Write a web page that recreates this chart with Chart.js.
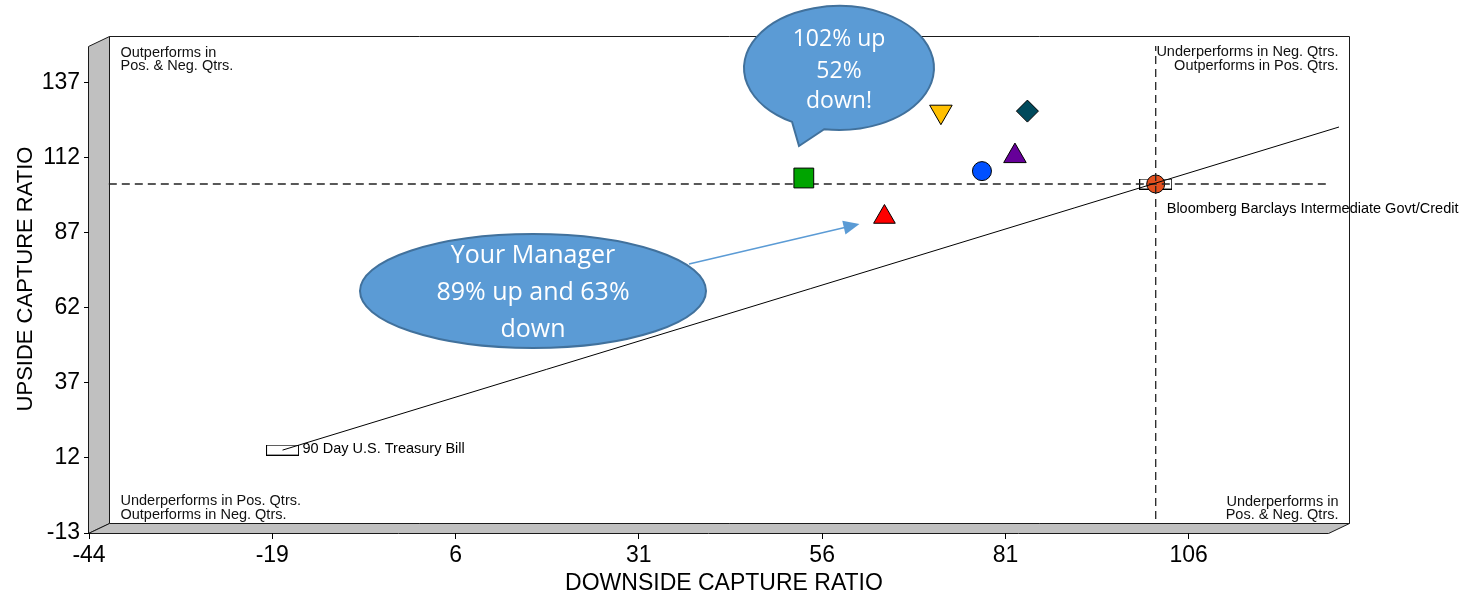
<!DOCTYPE html>
<html>
<head>
<meta charset="utf-8">
<title>Up / Down Capture</title>
<script src="https://cdn.jsdelivr.net/npm/chart.js@4.4.1/dist/chart.umd.min.js"></script>
<style>
  body { margin: 0; background: #fff; }
  canvas { display: block; }
</style>
</head>
<body>
<canvas id="captureChart" width="1471" height="600"></canvas>
<script>
"use strict";

// Downside (x) and upside (y) capture ratios of the managers
var downside = [63, 52, 70.7, 82.5, 80.8, 76.3];
var upside = [89, 102, 124.1, 124.3, 109.3, 104.3];

// benchmark and cash reference points
var benchmarkName = "Bloomberg Barclays Intermediate Govt/Credit";
var benchmarkDown = 100;
var benchmarkUp = 100;
var cashName = "90 Day U.S. Treasury Bill";
var cashDown = -19.1;
var cashUp = 11.3;

// line from cash through the benchmark
var lineDown = [-19.1, 125];
var lineUp = [11.3, 119];

// extent of the dashed benchmark lines
var hLineDown = [-42.8, 123.4];
var vLineUp = [-11.7, 146];

// axis ticks
var xTicks = [-44, -19, 6, 31, 56, 81, 106];
var yTicks = [-13, 12, 37, 62, 87, 112, 137];

// callouts and quadrant notes
var managerNote = ["Your Manager", "89% up and 63%", "down"];
var bestNote = ["102% up", "52%", "down!"];
var noteTopLeft = ["Outperforms in", "Pos. & Neg. Qtrs."];
var noteTopRight = ["Underperforms in Neg. Qtrs.", "Outperforms in Pos. Qtrs."];
var noteBottomLeft = ["Underperforms in Pos. Qtrs.", "Outperforms in Neg. Qtrs."];
var noteBottomRight = ["Underperforms in", "Pos. & Neg. Qtrs."];

// marker looks, one per manager
var markerShape = ["triangle", "rect", "triangle", "rectRot", "triangle", "circle"];
var markerColor = ["#ff0000", "#00a400", "#ffc000", "#004a5c", "#660099", "#0050ff"];
var markerSize = [12.5, 14, 13, 11, 13, 9.5];
var markerTurn = [0, 0, 180, 0, 0, 0];

var SANS = "'Liberation Sans', Arial, sans-serif";
var CALLOUT = "'Open Sans', sans-serif";

Chart.defaults.font.family = SANS;
Chart.defaults.color = "#000";

function pairs(xs, ys) {
    return xs.map(function (x, i) { return {x: x, y: ys[i]}; });
}

// small white box used for the benchmark and cash points
function boxMarker() {
    var c = document.createElement("canvas");
    c.width = 33;
    c.height = 11;
    var g = c.getContext("2d");
    g.fillStyle = "#fff";
    g.fillRect(0, 0, 33, 11);
    g.strokeStyle = "#000";
    g.lineWidth = 1;
    g.strokeRect(0.5, 0.5, 32, 10);
    return c;
}

function bubble(ctx, cx, cy, rx, ry, tail) {
    ctx.beginPath();
    if (tail) {
        var aLeft = Math.atan2((tail[0][1] - cy) / ry, (tail[0][0] - cx) / rx);
        var aRight = Math.atan2((tail[2][1] - cy) / ry, (tail[2][0] - cx) / rx);
        ctx.ellipse(cx, cy, rx, ry, 0, aLeft, aRight);
        ctx.lineTo(tail[1][0], tail[1][1]);
        ctx.closePath();
    } else {
        ctx.ellipse(cx, cy, rx, ry, 0, 0, Math.PI * 2);
    }
    ctx.fillStyle = "#5b9bd5";
    ctx.fill();
    ctx.strokeStyle = "#41719c";
    ctx.lineWidth = 2;
    ctx.stroke();
}

function lines(ctx, text, x, ys) {
    text.forEach(function (t, i) { ctx.fillText(t, x, ys[i]); });
}

// 3D frame: grey side wall and floor, white back wall
var framePlugin = {
    id: "frame",
    beforeDraw: function (chart) {
        var ctx = chart.ctx, a = chart.chartArea;
        var fl = Math.round(a.left) - 0.5, fb = Math.round(a.bottom) + 0.5;
        var fr = Math.round(a.right) + 0.5, ft = Math.round(a.top) + 0.5;
        var dx = 21, dy = -10;
        ctx.save();
        ctx.fillStyle = "#fff";
        ctx.fillRect(0, 0, chart.width, chart.height);
        ctx.lineWidth = 1;
        ctx.strokeStyle = "#1a1a1a";

        ctx.beginPath();
        ctx.rect(fl + dx, ft + dy, fr - fl, fb - ft);
        ctx.fillStyle = "#fff";
        ctx.fill();
        ctx.stroke();

        ctx.fillStyle = "#c0c0c0";
        ctx.beginPath();
        ctx.moveTo(fl, ft);
        ctx.lineTo(fl + dx, ft + dy);
        ctx.lineTo(fl + dx, fb + dy);
        ctx.lineTo(fl, fb);
        ctx.closePath();
        ctx.fill();
        ctx.stroke();

        ctx.beginPath();
        ctx.moveTo(fl, fb);
        ctx.lineTo(fl + dx, fb + dy);
        ctx.lineTo(fr + dx, fb + dy);
        ctx.lineTo(fr, fb);
        ctx.closePath();
        ctx.fill();
        ctx.stroke();

        // quadrant notes on the back wall
        var bl = fl + dx + 11, br = fr + dx - 11;
        ctx.fillStyle = "#111";
        ctx.font = "14.5px " + SANS;
        ctx.textBaseline = "middle";
        ctx.textAlign = "left";
        lines(ctx, noteTopLeft, bl, [53, 66]);
        lines(ctx, noteBottomLeft, bl, [501, 515]);
        ctx.textAlign = "right";
        lines(ctx, noteTopRight, br, [52, 66]);
        lines(ctx, noteBottomRight, br, [502, 515]);
        ctx.restore();
    },
    afterDatasetsDraw: function (chart) {
        var ctx = chart.ctx;
        var xb = chart.scales.xb, yb = chart.scales.yb;
        ctx.save();

        // point labels
        ctx.fillStyle = "#000";
        ctx.font = "14.5px " + SANS;
        ctx.textAlign = "left";
        ctx.textBaseline = "middle";
        ctx.fillText(benchmarkName, xb.getPixelForValue(benchmarkDown) + 11, yb.getPixelForValue(benchmarkUp) + 25);
        ctx.fillText(cashName, xb.getPixelForValue(cashDown) + 20, yb.getPixelForValue(cashUp) - 1);

        // arrow to the manager
        var mx = xb.getPixelForValue(downside[0]) - 25;
        var my = yb.getPixelForValue(upside[0]) + 7;
        var sx = 689, sy = 264;
        var ang = Math.atan2(my - sy, mx - sx);
        ctx.strokeStyle = "#5b9bd5";
        ctx.fillStyle = "#5b9bd5";
        ctx.lineWidth = 1.5;
        ctx.beginPath();
        ctx.moveTo(sx, sy);
        ctx.lineTo(mx - 14 * Math.cos(ang), my - 14 * Math.sin(ang));
        ctx.stroke();
        ctx.beginPath();
        ctx.moveTo(mx, my);
        ctx.lineTo(mx - 16 * Math.cos(ang) + 7 * Math.sin(ang), my - 16 * Math.sin(ang) - 7 * Math.cos(ang));
        ctx.lineTo(mx - 16 * Math.cos(ang) - 7 * Math.sin(ang), my - 16 * Math.sin(ang) + 7 * Math.cos(ang));
        ctx.closePath();
        ctx.fill();

        // callout bubbles
        bubble(ctx, 533, 291, 173, 57, null);
        bubble(ctx, 839, 68, 95, 62, [[792, 122], [799, 146], [824, 130]]);

        ctx.fillStyle = "#fff";
        ctx.textAlign = "center";
        ctx.font = "25px " + CALLOUT;
        lines(ctx, managerNote, 533, [256, 293, 330]);
        ctx.font = "23px " + CALLOUT;
        lines(ctx, bestNote, 839, [39, 71, 101]);

        // axis titles
        ctx.fillStyle = "#000";
        ctx.font = "23px " + SANS;
        ctx.fillText("DOWNSIDE CAPTURE RATIO", 724, 584);
        ctx.font = "22px " + SANS;
        ctx.translate(26, 279);
        ctx.rotate(-Math.PI / 2);
        ctx.fillText("UPSIDE CAPTURE RATIO", 0, 0);
        ctx.restore();
    }
};

var box = boxMarker();
var onBack = {xAxisID: "xb", yAxisID: "yb"};

function withBack(ds) {
    return Object.assign({}, onBack, ds);
}

var tickFont = {size: 23};

// earlier datasets are painted on top of later ones
new Chart(document.getElementById("captureChart"), {
    type: "scatter",
    data: {
        datasets: [
            withBack({
                data: pairs(lineDown, lineUp),
                showLine: true, borderColor: "#000", borderWidth: 1,
                pointRadius: 0, clip: false
            }),
            withBack({
                data: pairs(downside, upside),
                pointStyle: markerShape,
                pointRadius: markerSize,
                pointHoverRadius: markerSize,
                pointRotation: markerTurn,
                pointBackgroundColor: markerColor,
                pointBorderColor: "#000",
                pointBorderWidth: 1
            }),
            withBack({
                data: pairs(hLineDown, [benchmarkUp, benchmarkUp]),
                showLine: true, borderColor: "#222", borderWidth: 1.3, borderDash: [8, 5],
                pointRadius: 0, clip: false
            }),
            withBack({
                data: pairs([benchmarkDown, benchmarkDown], vLineUp),
                showLine: true, borderColor: "#222", borderWidth: 1.3, borderDash: [8, 5],
                pointRadius: 0, clip: false
            }),
            withBack({
                data: [{x: benchmarkDown, y: benchmarkUp}],
                pointStyle: "circle", pointRadius: 9, pointHoverRadius: 9,
                pointBackgroundColor: "#e4501e", pointBorderColor: "#000", pointBorderWidth: 1
            }),
            withBack({
                data: [{x: benchmarkDown, y: benchmarkUp}, {x: cashDown, y: cashUp}],
                pointStyle: box, pointRadius: 5, pointHoverRadius: 5
            })
        ]
    },
    options: {
        responsive: false,
        animation: false,
        devicePixelRatio: 1,
        layout: {padding: {left: 0, top: 46, right: 143, bottom: 0}},
        plugins: {legend: {display: false}, tooltip: {enabled: false}},
        events: [],
        scales: {
            x: {
                type: "linear", position: "bottom", min: -44, max: 125,
                afterBuildTicks: function (s) { s.ticks = xTicks.map(function (v) { return {value: v}; }); },
                afterFit: function (s) { s.height = 67; },
                grid: {drawOnChartArea: false, drawTicks: true, tickLength: 6, color: "#000"},
                border: {display: false},
                ticks: {color: "#000", font: tickFont, padding: 3, maxRotation: 0, autoSkip: false}
            },
            y: {
                type: "linear", position: "left", min: -13, max: 149.33,
                afterBuildTicks: function (s) { s.ticks = yTicks.map(function (v) { return {value: v}; }); },
                afterFit: function (s) { s.width = 89; },
                grid: {drawOnChartArea: false, drawTicks: true, tickLength: 5, color: "#000"},
                border: {display: false},
                ticks: {color: "#000", font: tickFont, padding: 4, autoSkip: false}
            },
            xb: {type: "linear", display: false, min: -45.5, max: 123.5},
            yb: {type: "linear", display: false, min: -16.33, max: 146}
        }
    },
    plugins: [framePlugin]
});
</script>
</body>
</html>
